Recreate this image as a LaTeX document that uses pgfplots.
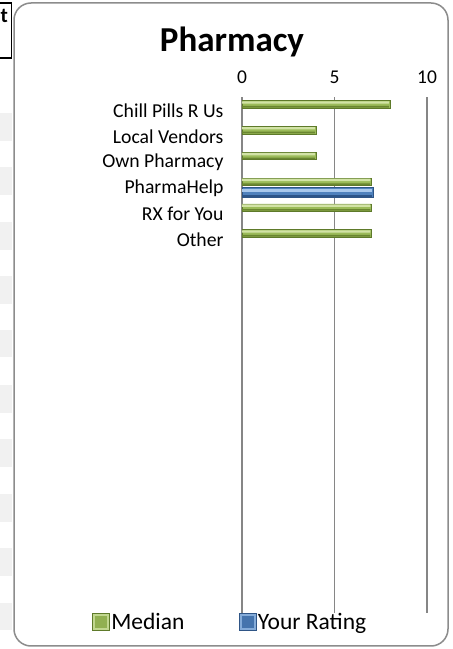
\documentclass[border=0pt]{standalone}
\usepackage{fontspec}
\setmainfont{Carlito}
\usepackage{pgfplots}
\usepackage{pgfplotstable}
\pgfplotsset{compat=1.18}

\definecolor{gridgrey}{HTML}{868686}
\definecolor{framegrey}{HTML}{8C8C8C}
\definecolor{stripe}{HTML}{F1F1F1}
\definecolor{greenTop}{HTML}{D2E3A6}
\definecolor{greenMid}{HTML}{9BBB59}
\definecolor{greenBot}{HTML}{6A8631}
\definecolor{greenLine}{HTML}{5E7A2A}
\definecolor{blueTop}{HTML}{A9C8EC}
\definecolor{blueMid}{HTML}{4F81BD}
\definecolor{blueBot}{HTML}{2C5488}
\definecolor{blueLine}{HTML}{2F5586}

% category, value (categories numbered from the top)
\pgfplotstableread{
cat val
1 8
2 4
3 4
4 7
5 7
6 7
}\median
\pgfplotstableread{
cat val
4 7.1
}\rating

\begin{document}
\begin{tikzpicture}
\useasboundingbox (0pt,0pt) rectangle (453pt,649pt);

% spreadsheet cells behind the chart
\foreach \a/\b in {112.7/140.7,166.7/195,221.7/250,276/304,330/357,385/413,439/467,494/522,548/576,603/630}
  \fill[stripe] (0pt,649pt-\b pt) rectangle (12pt,649pt-\a pt);
\draw[line width=1.2pt] (-2pt,591pt) rectangle (11.5pt,646pt);
\node[anchor=base east, inner sep=0pt, font=\bfseries\fontsize{21}{21}\selectfont] at (8pt,626pt) {t};

% chart frame
\fill[white, rounded corners=17pt] (14pt,3pt) rectangle (448pt,646pt);
\draw[framegrey, line width=1.5pt, rounded corners=17pt] (14pt,3pt) rectangle (448pt,646pt);

\node[anchor=base, inner sep=0pt, font=\bfseries\fontsize{35}{35}\selectfont] at (232pt,597pt) {Pharmacy};

\begin{axis}[
    at={(242pt,36pt)}, anchor=south west,
    scale only axis, width=185pt, height=516pt,
    xmin=0, xmax=10, ymin=0.5, ymax=20.5,
    y dir=reverse,
    axis line style={draw=none},
    xtick={0,5,10},
    xticklabel pos=top,
    xmajorgrids,
    grid style={gridgrey, line width=1.4pt},
    ytick={1,2,3,4,5,6},
    yticklabels={Chill Pills R Us, Local Vendors, Own Pharmacy, PharmaHelp, RX for You, Other},
    major tick length=0pt,
    /pgf/number format/assume math mode=true,
    xticklabel style={font=\fontsize{19.5}{20}\selectfont, yshift=10pt},
    yticklabel style={font=\fontsize{19.7}{20}\selectfont, xshift=-15pt, yshift=-1pt},
    xbar, bar shift=0pt,
    clip=false,
    legend columns=2,
    legend style={at={(-0.811,-0.0174)}, anchor=west, draw=none, fill=none,
      inner sep=0pt, font=\fontsize{23.5}{24}\selectfont,
      nodes={inner sep=1.5pt},
      /tikz/every even column/.append style={column sep=53pt}},
  ]
  % Median
  \addplot[bar width=7.5pt, draw=greenLine, line width=0.7pt, fill=greenMid,
    legend image code/.code={\draw[draw=greenLine, line width=0.6pt, fill=greenTop!70!greenMid] (0pt,-8.5pt) rectangle (17pt,8.5pt);
      \fill[greenMid!80!greenBot] (3pt,-5.5pt) rectangle (14pt,5.5pt);}]
    table[x=val, y expr=\thisrow{cat}-0.213] {\median};
  \addlegendentry{Median}
  \addplot[forget plot, bar width=2.4pt, draw=none, fill=greenTop]
    table[x expr=\thisrow{val}-0.06, y expr=\thisrow{cat}-0.213-0.075] {\median};
  \addplot[forget plot, bar width=1.6pt, draw=none, fill=greenBot]
    table[x expr=\thisrow{val}-0.06, y expr=\thisrow{cat}-0.213+0.09] {\median};
  % Your Rating
  \addplot[bar width=10pt, draw=blueLine, line width=0.7pt, fill=blueMid,
    legend image code/.code={\draw[draw=blueLine, line width=0.6pt, fill=blueTop!60!blueMid] (0pt,-8.5pt) rectangle (17pt,8.5pt);
      \fill[blueMid!70!blueBot] (3pt,-5.5pt) rectangle (14pt,5.5pt);}]
    table[x=val, y expr=\thisrow{cat}+0.213] {\rating};
  \addlegendentry{Your Rating}
  \addplot[forget plot, bar width=3.4pt, draw=none, fill=blueTop]
    table[x expr=\thisrow{val}-0.06, y expr=\thisrow{cat}+0.213-0.09] {\rating};
  \addplot[forget plot, bar width=2.2pt, draw=none, fill=blueBot]
    table[x expr=\thisrow{val}-0.06, y expr=\thisrow{cat}+0.213+0.11] {\rating};
\end{axis}
\end{tikzpicture}
\end{document}
